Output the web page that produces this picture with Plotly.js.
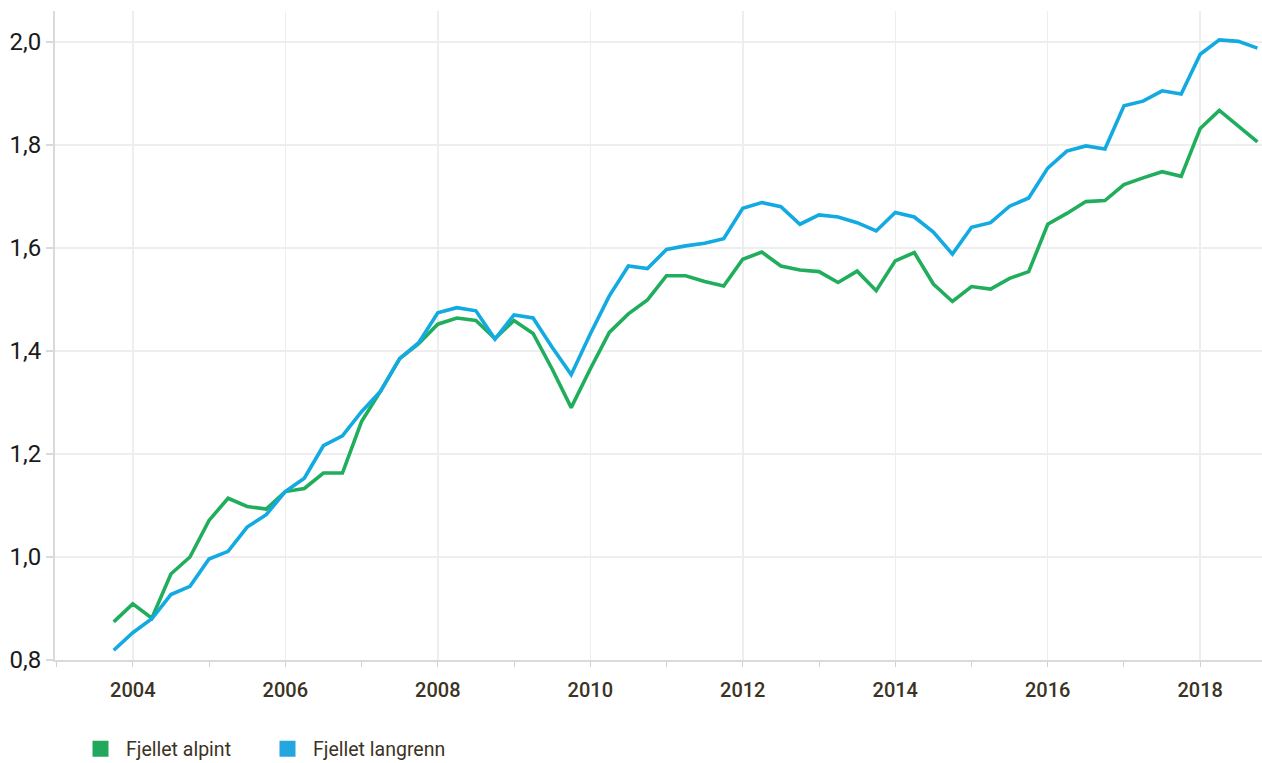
<!DOCTYPE html>
<html>
<head>
<meta charset="utf-8">
<script src="https://cdn.plot.ly/plotly-3.0.1.min.js"></script>
<style>html,body{margin:0;padding:0;background:#fff;}#chart{width:1262px;height:763px;}</style>
</head>
<body>
<div id="chart"></div>
<script>
// Quarterly observations, 2003 Q4 .. 2018 Q4 (x = decimal year)
const quarters = [
  2003.75,
  2004.00, 2004.25, 2004.50, 2004.75,
  2005.00, 2005.25, 2005.50, 2005.75,
  2006.00, 2006.25, 2006.50, 2006.75,
  2007.00, 2007.25, 2007.50, 2007.75,
  2008.00, 2008.25, 2008.50, 2008.75,
  2009.00, 2009.25, 2009.50, 2009.75,
  2010.00, 2010.25, 2010.50, 2010.75,
  2011.00, 2011.25, 2011.50, 2011.75,
  2012.00, 2012.25, 2012.50, 2012.75,
  2013.00, 2013.25, 2013.50, 2013.75,
  2014.00, 2014.25, 2014.50, 2014.75,
  2015.00, 2015.25, 2015.50, 2015.75,
  2016.00, 2016.25, 2016.50, 2016.75,
  2017.00, 2017.25, 2017.50, 2017.75,
  2018.00, 2018.25, 2018.50, 2018.75
];
const alpint = [
  0.874,
  0.909, 0.881, 0.967, 1.000,
  1.071, 1.114, 1.098, 1.093,
  1.127, 1.133, 1.163, 1.163,
  1.263, 1.322, 1.385, 1.414,
  1.452, 1.464, 1.459, 1.424,
  1.459, 1.434, 1.365, 1.290,
  1.365, 1.436, 1.472, 1.499,
  1.546, 1.546, 1.535, 1.526,
  1.578, 1.592, 1.565, 1.557,
  1.554, 1.533, 1.555, 1.517,
  1.575, 1.591, 1.530, 1.496,
  1.525, 1.520, 1.541, 1.554,
  1.646, 1.667, 1.690, 1.692,
  1.723, 1.736, 1.748, 1.739,
  1.832, 1.867, 1.837, 1.806
];
const langrenn = [
  0.819,
  0.853, 0.880, 0.927, 0.943,
  0.996, 1.011, 1.058, 1.082,
  1.127, 1.153, 1.216, 1.235,
  1.282, 1.322, 1.385, 1.416,
  1.474, 1.484, 1.478, 1.423,
  1.470, 1.464, 1.407, 1.354,
  1.433, 1.507, 1.565, 1.560,
  1.597, 1.604, 1.609, 1.618,
  1.677, 1.688, 1.680, 1.646,
  1.664, 1.660, 1.649, 1.633,
  1.669, 1.660, 1.631, 1.588,
  1.640, 1.649, 1.681, 1.697,
  1.755, 1.788, 1.798, 1.792,
  1.876, 1.885, 1.905, 1.899,
  1.976, 2.004, 2.001, 1.988
];
const seriesNames = ["Fjellet alpint", "Fjellet langrenn"];
const yTickVals = [0.8, 1.0, 1.2, 1.4, 1.6, 1.8, 2.0];
const yTickText = ["0,8", "1,0", "1,2", "1,4", "1,6", "1,8", "2,0"];
const xTickVals = [2004, 2006, 2008, 2010, 2012, 2014, 2016, 2018];
const xTickText = ["2004", "2006", "2008", "2010", "2012", "2014", "2016", "2018"];

const GREEN = "#20ae5d";
const BLUE = "#13aae2";

const traces = [
  {x: quarters, y: alpint, type: "scatter", mode: "lines", name: seriesNames[0],
   line: {color: GREEN, width: 3.6}, showlegend: false},
  {x: quarters, y: langrenn, type: "scatter", mode: "lines", name: seriesNames[1],
   line: {color: BLUE, width: 3.6}, showlegend: false},
  {x: [null], y: [null], type: "scatter", mode: "markers", name: seriesNames[0],
   marker: {symbol: "square", size: 19, color: "#22a85a"}, showlegend: true},
  {x: [null], y: [null], type: "scatter", mode: "markers", name: seriesNames[1],
   marker: {symbol: "square", size: 19, color: "#26a6df"}, showlegend: true}
];

const layout = {
  width: 1262, height: 763,
  margin: {l: 55, r: 0, t: 11, b: 103, autoexpand: false},
  paper_bgcolor: "#fff", plot_bgcolor: "#fff",
  font: {family: "Roboto, 'DejaVu Sans', sans-serif", color: "#3b3323"},
  showlegend: true,
  legend: {
    orientation: "h", xref: "container", x: 75 / 1262, xanchor: "left",
    yref: "container", y: (763 - 749) / 763, yanchor: "middle",
    font: {size: 19.5, color: "#3b3323"},
    itemwidth: 41, entrywidth: 131, entrywidthmode: "pixels",
    itemsizing: "trace", bgcolor: "rgba(0,0,0,0)"
  },
  xaxis: {
    range: [2002.98, 2018.81],
    tickvals: xTickVals, ticktext: xTickText,
    showgrid: true, gridcolor: "#eeeeee", gridwidth: 1.5,
    zeroline: false,
    showline: true, linecolor: "#dadada", linewidth: 1.5,
    ticks: "outside", ticklen: 5, tickcolor: "#d0d0d0", tickwidth: 1,
    tickfont: {size: 20, color: "#3b3323", family: "Roboto, sans-serif", weight: 500},
    ticklabelstandoff: 6,
    minor: {dtick: 1, tick0: 2003, ticks: "outside", ticklen: 5, tickcolor: "#d0d0d0", showgrid: false},
    fixedrange: true
  },
  yaxis: {
    range: [0.8, 2.06],
    tickvals: yTickVals, ticktext: yTickText,
    showgrid: true, gridcolor: "#eeeeee", gridwidth: 1.5,
    zeroline: false,
    showline: true, linecolor: "#dadada", linewidth: 2,
    ticks: "outside", ticklen: 7, tickcolor: "#dadada", tickwidth: 1.5,
    tickfont: {size: 24, color: "#1a1a1a", family: "Roboto, sans-serif"},
    ticklabelstandoff: 0,
    fixedrange: true
  }
};

Plotly.newPlot("chart", traces, layout, {staticPlot: true, displayModeBar: false});
</script>
</body>
</html>
